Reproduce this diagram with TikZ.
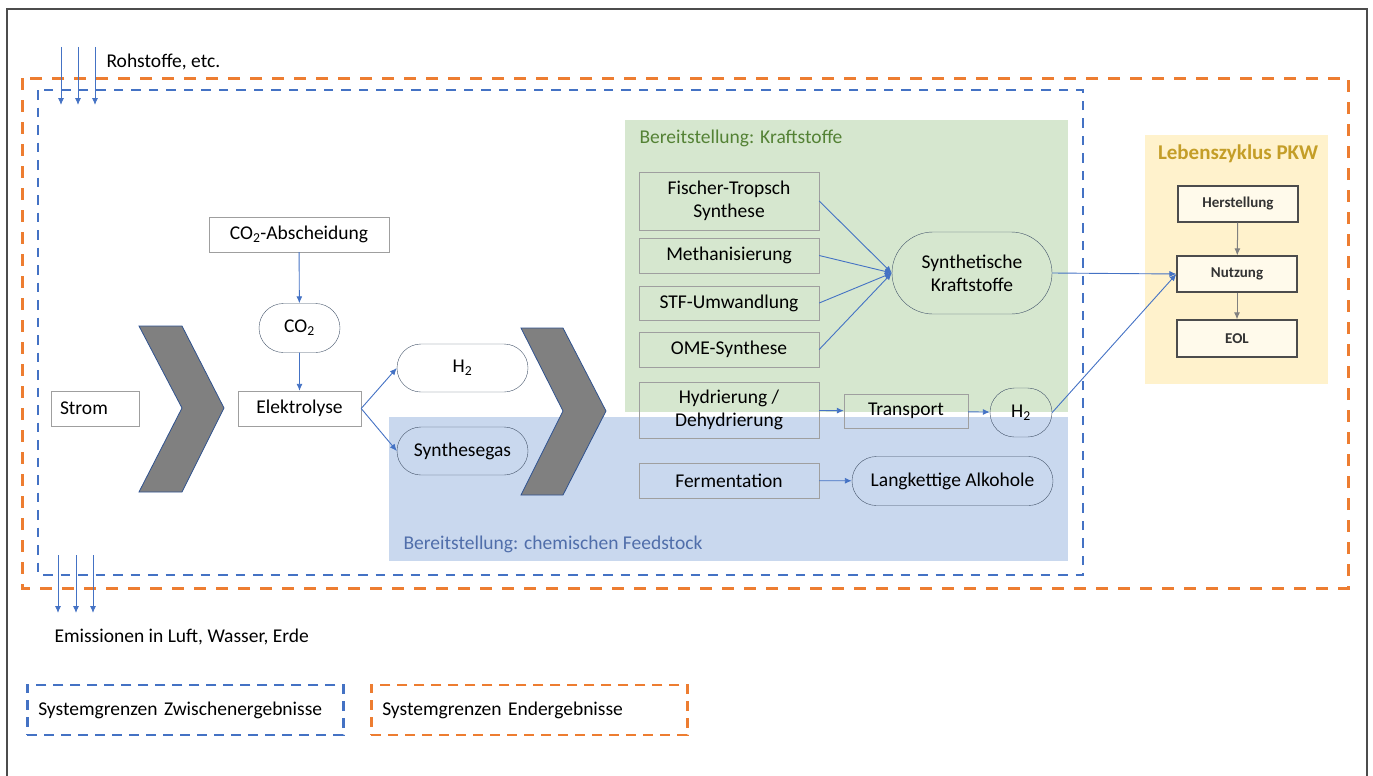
\documentclass[tikz,border=0pt]{standalone}
\usepackage{fontspec}
\setmainfont{Carlito}
\usetikzlibrary{arrows.meta,shapes.misc}

\definecolor{flowblue}{RGB}{68,114,196}
\definecolor{bndorange}{RGB}{237,125,49}
\definecolor{fuelgreen}{RGB}{214,231,207}
\definecolor{fuelgreentext}{RGB}{84,130,53}
\definecolor{feedblue}{RGB}{201,216,238}
\definecolor{feedbluetext}{RGB}{80,110,170}
\definecolor{lcayellow}{RGB}{255,242,204}
\definecolor{lcatext}{RGB}{196,158,40}
\definecolor{termline}{RGB}{68,84,106}
\definecolor{chevline}{RGB}{47,82,143}

\tikzset{
  proc/.style={draw=gray!75, minimum width=180, minimum height=35, inner sep=2, align=center},
  term/.style={rounded rectangle, draw=termline, minimum height=48, inner sep=2},
  lcbox/.style={draw=black!70, line width=1.2, fill=lcayellow!40, minimum width=120, minimum height=36,
    font=\fontsize{15}{18}\selectfont\bfseries, text=black!80},
  flow/.style={->, flowblue, line width=0.9},
  chevron/.style={fill=gray, draw=chevline, line width=0.8},
  bluebnd/.style={draw=flowblue, line width=2.5, dash pattern=on 9.5 off 8},
  orangebnd/.style={draw=bndorange, line width=3, dash pattern=on 12 off 10},
}

\begin{document}
\begin{tikzpicture}[x=1pt, y=-1pt, >={Latex[length=7,width=6]},
  every node/.style={font=\fontsize{19.5}{23}\selectfont}]
\useasboundingbox (0,0) rectangle (1373,776);

% frame
\draw[gray!60!black, line width=1.5] (7,776) -- (7,9) -- (1367,9) -- (1367,776);

% background areas
\fill[fuelgreen] (625,120) rectangle (1068,412);
\fill[feedblue] (389,417) rectangle (1068,561);
\fill[lcayellow] (1145,135) rectangle (1328,384);
\node[anchor=west, text=fuelgreentext] at (636,138) {Bereitstellung: Kraftstoffe};
\node[anchor=west, text=feedbluetext] at (400,544) {Bereitstellung: chemischen Feedstock};
\node[text=lcatext, font=\fontsize{21}{25}\selectfont\bfseries] at (1238,154) {Lebenszyklus PKW};

% system boundaries
\draw[orangebnd] (22,78) rectangle (1348,588);
\draw[bluebnd] (38,90) rectangle (1083,575);

% chevrons
\draw[chevron] (139,326) -- (182,326) -- (224,408) -- (182,492) -- (139,492) -- (182,408) -- cycle;
\draw[chevron] (521,328) -- (563,328) -- (606,411) -- (563,495) -- (521,495) -- (563,411) -- cycle;

% left part
\node[proc, minimum width=0, text width=70, align=left, inner xsep=9] (strom) at (95,408.5) {Strom};
\node[proc, minimum width=123] (elyse) at (299.5,408.5) {Elektrolyse};
\node[proc] (co2ab) at (299,234.5) {CO\textsubscript{2}-Abscheidung};
\node[term, minimum width=85, minimum height=49] (co2) at (299.5,328) {CO\textsubscript{2}};
\node[term, minimum width=135] (h2a) at (462.5,368) {H\textsubscript{2}};
\node[term, minimum width=135] (sgas) at (462.5,451) {Synthesegas};

\draw[flow] (co2ab) -- (co2);
\draw[flow] (co2) -- (elyse);
\draw[flow] (elyse.east) -- (h2a.west);
\draw[flow] (elyse.east) -- (sgas.west);

% fuels and feedstock
\node[proc, minimum height=58] (ft) at (729,201) {Fischer-Tropsch\\Synthese};
\node[proc] (meth) at (729,255.5) {Methanisierung};
\node[proc, minimum height=34] (stf) at (729,303) {STF-Umwandlung};
\node[proc] (ome) at (729,349.5) {OME-Synthese};
\node[proc, minimum height=56] (hyd) at (729,410) {Hydrierung /\\Dehydrierung};
\node[proc] (ferm) at (729,480.5) {Fermentation};
\node[term, minimum width=164, minimum height=82, align=center] (synk) at (972,273) {Synthetische\\Kraftstoffe};
\node[proc, minimum width=124, minimum height=34] (trans) at (906,411) {Transport};
\node[term, minimum width=66, minimum height=49] (h2b) at (1021,412.5) {H\textsubscript{2}};
\node[term, minimum width=205, minimum height=49] (alk) at (952.5,481) {Langkettige Alkohole};

\foreach \n in {ft,meth,stf,ome}
  \draw[flow] (\n.east) -- (synk.west);
\draw[flow] (hyd) -- (trans);
\draw[flow] (trans) -- (h2b);
\draw[flow] (ferm) -- (alk);

% life cycle
\node[lcbox] (herst) at (1238,204) {Herstellung};
\node[lcbox] (nutz) at (1237,274) {Nutzung};
\node[lcbox, minimum height=37] (eol) at (1237,338.5) {EOL};
\draw[->, gray, line width=1] (herst) -- (nutz);
\draw[->, gray, line width=1] (nutz) -- (eol);
\draw[flow] (synk.east) -- (nutz.west);
\draw[flow] (h2b.east) -- (nutz.west);

% in- and outputs
\node[anchor=west] (rohst) at (103,62) {Rohstoffe, etc.};
\node[anchor=west] (emiss) at (51,637) {Emissionen in Luft, Wasser, Erde};
\foreach \x [count=\i] in {61,78,95} {
  \coordinate (in\i a) at (\x,47);
  \coordinate (in\i b) at (\x,105);
  \draw[flow] (in\i a) -- (in\i b);
}
\foreach \x [count=\i] in {58,76,93} {
  \coordinate (out\i a) at (\x,555);
  \coordinate (out\i b) at (\x,613);
  \draw[flow] (out\i a) -- (out\i b);
}

% legend
\node[draw=flowblue, line width=2.5, dash pattern=on 10 off 7, anchor=west, text width=294, inner xsep=11,
  minimum height=50] (legz) at (26,710) {Systemgrenzen Zwischenergebnisse};
\node[draw=bndorange, line width=2.5, dash pattern=on 10 off 7, anchor=west, text width=294, inner xsep=11,
  minimum height=50] (lege) at (370,710) {Systemgrenzen Endergebnisse};
\end{tikzpicture}
\end{document}
